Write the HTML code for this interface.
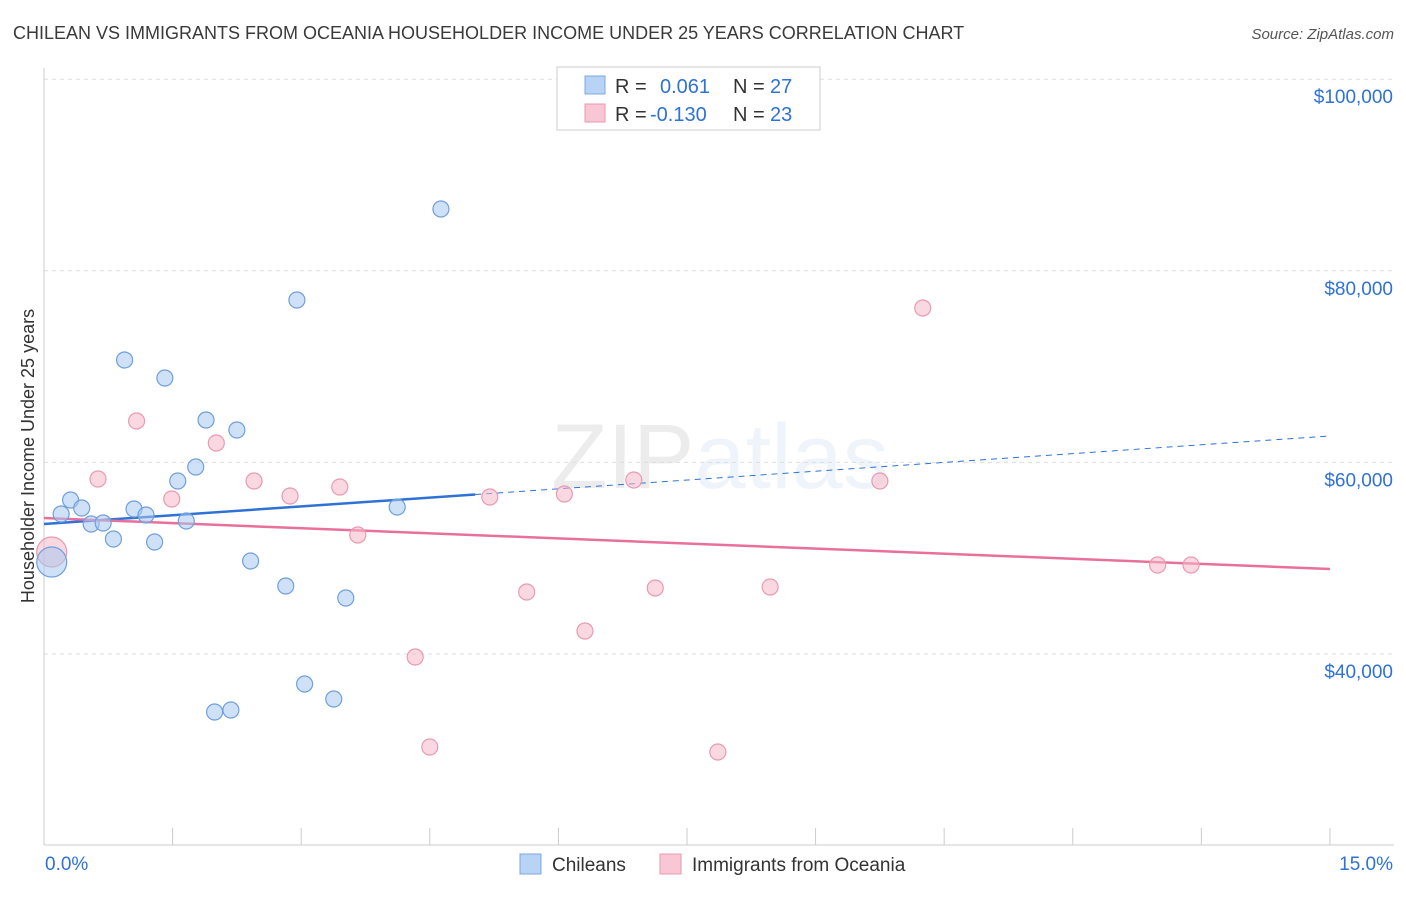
<!DOCTYPE html>
<html><head><meta charset="utf-8"><style>
body{margin:0;background:#fff;font-family:"Liberation Sans",sans-serif;}
svg text{font-family:"Liberation Sans",sans-serif;}
</style></head><body>
<svg id="chart" width="1406" height="892" viewBox="0 0 1406 892" xmlns="http://www.w3.org/2000/svg">
<text x="13" y="39" font-size="18" fill="#3a3a3a">CHILEAN VS IMMIGRANTS FROM OCEANIA HOUSEHOLDER INCOME UNDER 25 YEARS CORRELATION CHART</text>
<text x="1394" y="39" font-size="15" fill="#555" font-style="italic" text-anchor="end">Source: ZipAtlas.com</text>
<text x="720" y="488" font-size="92" text-anchor="middle" fill="#000" opacity="0.07" font-family="Liberation Serif">ZIP<tspan fill="#2f72d6" opacity="1" font-family="Liberation Sans">atlas</tspan></text>
<text transform="translate(34,456) rotate(-90)" font-size="18" fill="#333" text-anchor="middle">Householder Income Under 25 years</text>
<g id="grid"></g><g id="axes"></g><g id="trend"></g><g id="points"></g>
<g>
<rect x="557" y="67" width="263" height="63" fill="#fff" stroke="#ccc"/>
<rect x="585" y="76" width="20" height="18" fill="#b7d3f5" stroke="#7ea9e0"/>
<text x="615" y="93" font-size="20" fill="#333">R = </text><text x="660" y="93" font-size="20" fill="#2f72d6">0.061</text>
<text x="733" y="93" font-size="20" fill="#333">N = </text><text x="770" y="93" font-size="20" fill="#2f72d6">27</text>
<rect x="585" y="104" width="20" height="18" fill="#f8c6d4" stroke="#ea9ab0"/>
<text x="615" y="121" font-size="20" fill="#333">R = </text><text x="650" y="121" font-size="20" fill="#2f72d6">-0.130</text>
<text x="733" y="121" font-size="20" fill="#333">N = </text><text x="770" y="121" font-size="20" fill="#2f72d6">23</text>
</g>
<g>
<rect x="520" y="854" width="21" height="20" fill="#b7d3f5" stroke="#7ea9e0"/>
<text x="552" y="871" font-size="19" fill="#333">Chileans</text>
<rect x="660" y="854" width="21" height="20" fill="#f8c6d4" stroke="#ea9ab0"/>
<text x="692" y="871" font-size="19" fill="#333">Immigrants from Oceania</text>
</g>
</svg>
<script>
const blueX=[0.09,0.20,0.31,0.44,0.55,0.69,0.81,0.94,1.05,1.19,1.29,1.41,1.56,1.66,1.77,1.89,1.99,2.18,2.25,2.41,2.82,2.95,3.04,3.38,3.52,4.12,4.63];
const blueY=[49600,54613,56075,55239,53569,53674,52004,70688,55135,54509,51691,68809,58058,53883,59519,64425,33946,34155,63381,49707,47098,76951,36869,35303,45845,55343,86449];
const pinkX=[0.09,0.63,1.08,1.49,2.01,2.45,2.87,3.45,3.66,4.33,4.50,5.20,5.63,6.07,6.31,6.88,7.13,7.86,8.47,9.75,10.25,12.99,13.38];
const pinkY=[50647,58267,64321,56179,62024,58058,56492,57431,52421,39687,30293,56388,46472,56701,42401,58162,46889,29771,46993,58058,76115,49290,49290];
const yTicks=[40000,60000,80000,100000];
const yTickLabels=["$40,000","$60,000","$80,000","$100,000"];
const blueTrend=[53569,62755];const blueSolidEnd=5.03;
const pinkTrend=[54196,48872];
const NS="http://www.w3.org/2000/svg";
const X=p=>44+p*85.73, Y=v=>654-(v-40000)*191.6/20000;
function mk(t,a,par){const e=document.createElementNS(NS,t);for(const k in a)e.setAttribute(k,a[k]);document.getElementById(par).appendChild(e);return e;}
yTicks.forEach((v,i)=>{
 const l=mk('line',{x1:44,x2:1394,y1:Y(v),y2:Y(v),stroke:'#ddd','stroke-dasharray':'4,4'},'grid');
 
 
 const t=mk('text',{x:1393,y:Y(v)+24,'font-size':19,fill:'#2f72d6','text-anchor':'end'},'grid');
 t.textContent=yTickLabels[i];
 
 
});
mk('line',{x1:44,x2:44,y1:68,y2:845,stroke:'#ccc'},'axes');
mk('line',{x1:44,x2:1394,y1:845,y2:845,stroke:'#ccc'},'axes');
for(let i=1;i<=10;i++){const tk=mk('line',{x1:X(i*1.5),x2:X(i*1.5),y1:828,y2:845,stroke:'#ccc'},'axes');
 
 }
const x0=mk('text',{x:45,y:870,'font-size':19,fill:'#2f72d6'},'axes');x0.textContent='0.0%';


const x1=mk('text',{x:1393,y:870,'font-size':19,fill:'#2f72d6','text-anchor':'end'},'axes');x1.textContent='15.0%';


const by=p=>blueTrend[0]+(blueTrend[1]-blueTrend[0])*p/15;
const bs=mk('line',{x1:X(0),y1:Y(by(0)),x2:X(blueSolidEnd),y2:Y(by(blueSolidEnd)),stroke:'#2f72d6','stroke-width':2.5},'trend');


const bd=mk('line',{x1:X(blueSolidEnd),y1:Y(by(blueSolidEnd)),x2:X(14.97),y2:Y(by(14.97)),stroke:'#2f72d6','stroke-width':1,'stroke-dasharray':'6,5'},'trend');


const pl=mk('line',{x1:X(0),y1:Y(pinkTrend[0]),x2:X(15),y2:Y(pinkTrend[1]),stroke:'#e8709a','stroke-width':2.5},'trend');


function pts(xs,ys,fill,stroke,name){xs.forEach((x,i)=>{const c=mk('circle',{cx:X(x),cy:Y(ys[i]),r:i===0?15:8,fill:fill,'fill-opacity':0.55,stroke:stroke,'stroke-width':1.2},'points');
 
 });}
pts(pinkX,pinkY,'#f5b8c8','#ea9ab0','oceania-point');
pts(blueX,blueY,'#a8c8f0','#6f9fdc','chilean-point');
</script>
</body></html>
